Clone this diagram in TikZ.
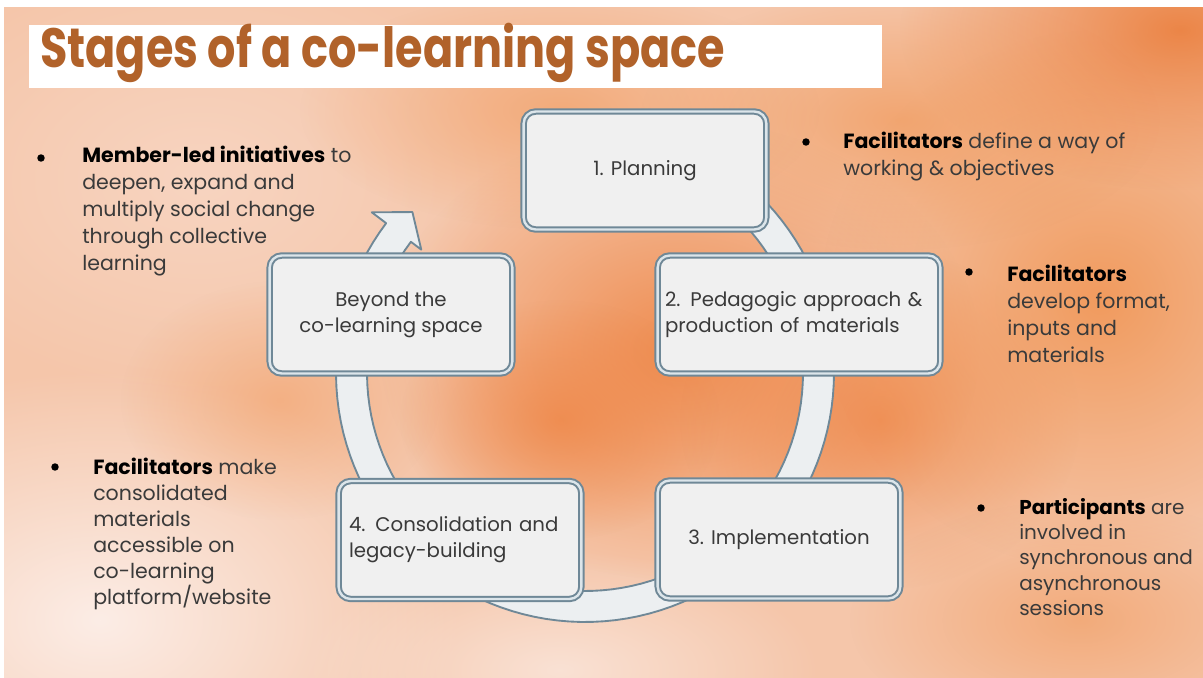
\documentclass[tikz,border=0pt]{standalone}
\usepackage{fontspec}
\usepackage{graphicx}
\setmainfont{Poppins}
\usetikzlibrary{fadings}
\definecolor{bgbase}{HTML}{F5C6AA}
\definecolor{orA}{HTML}{EE8240}
\definecolor{orB}{HTML}{F0904B}
\definecolor{orC}{HTML}{EA7A36}
\definecolor{paleA}{HTML}{FCEDE6}
\definecolor{peach}{HTML}{F8D6C3}
\definecolor{titlecol}{HTML}{B1622A}
\definecolor{slate}{HTML}{6F8897}
\definecolor{ringfill}{HTML}{ECEFF1}
\definecolor{boxfill}{HTML}{F0F0F0}
\definecolor{gapcol}{HTML}{DCE5EA}
\definecolor{bodytext}{HTML}{3A3A3A}
\tikzfading[name=blobfade, inner color=transparent!0, outer color=transparent!100]
\tikzset{
  stagebox/.style={rounded corners=9pt, draw=slate, line width=1.5pt, double=gapcol,
    double distance=1.8pt, fill=boxfill, minimum width=182pt, minimum height=88.5pt,
    inner sep=0pt, text=bodytext, font=\fontsize{14.8}{19.5}\selectfont},
  ringstyle/.style={draw=slate, line width=1.4pt, fill=ringfill, line join=round},
  sidetext/.style={anchor=north west, inner sep=0pt, align=left, text=bodytext,
    font=\fontsize{15.4}{20.2}\selectfont},
  bulletmark/.style={circle, fill=black, inner sep=0pt, minimum size=5.6pt},
  blob/.style={path fading=blobfade}
}
\begin{document}
\begin{tikzpicture}[x=0.75pt,y=-0.75pt]
\useasboundingbox (0,0) rectangle (1203,678);
% background
\fill[white] (0,0) rectangle (1203,678);
\begin{scope}
\clip (4,7) rectangle (1203,678);
\fill[bgbase] (0,0) rectangle (1203,678);
\fill[peach, opacity=0.9, blob] (200,180) ellipse [x radius=320, y radius=220];
\fill[paleA, opacity=1, blob] (100,620) ellipse [x radius=360, y radius=250];
\fill[paleA, opacity=0.7, blob] (560,670) ellipse [x radius=260, y radius=120];
\fill[orA, opacity=0.85, blob] (680,350) ellipse [x radius=300, y radius=230];
\fill[orA, opacity=0.7, blob] (560,420) ellipse [x radius=160, y radius=120];
\fill[orA, opacity=0.7, blob] (880,420) ellipse [x radius=200, y radius=170];
\fill[orB, opacity=0.8, blob] (1100,300) ellipse [x radius=280, y radius=270];
\fill[orC, opacity=0.85, blob] (1180,30) ellipse [x radius=280, y radius=160];
\fill[orB, opacity=0.6, blob] (900,120) ellipse [x radius=260, y radius=130];
\fill[orB, opacity=0.5, blob] (560,110) ellipse [x radius=260, y radius=120];
\fill[orB, opacity=0.5, blob] (1080,620) ellipse [x radius=230, y radius=120];
\fill[orB, opacity=0.4, blob] (280,400) ellipse [x radius=160, y radius=120];
\end{scope}
% title
\node[fill=white, inner sep=0pt, minimum width=639.75pt, minimum height=47.25pt, anchor=north west] (titlebox) at (29,25) {};
\node[anchor=base west, inner sep=0pt, text=titlecol, font=\fontsize{41.5}{45}\selectfont\bfseries] (title) at (40,67) {\scalebox{0.805}[1]{Stages of a co-learning space}};
% ring arrow
\draw[ringstyle]
  plot[domain=258:577, samples=120] ({585+249*cos(\x)},{373+249*sin(\x)})
  -- ({585+267*cos(577)},{373+267*sin(577)})
  -- ({585+236*cos(583)},{373+236*sin(583)})
  -- ({585+205*cos(577)},{373+205*sin(577)})
  -- plot[domain=577:258, samples=120] ({585+218*cos(\x)},{373+218*sin(\x)})
  -- cycle;
% stage boxes
\node[stagebox] (plan) at (645,170.5) {1. Planning};
\node[stagebox, minimum width=212pt, text width=201pt, align=left] (peda) at (799,314.5) {2. Pedagogic approach \&\\production of materials};
\node[stagebox, align=center] (beyond) at (391,314.5) {Beyond the\\co-learning space};
\node[stagebox, text width=166.5pt, align=left] (consol) at (460,540) {4. Consolidation and\\legacy-building};
\node[stagebox] (impl) at (779,539.5) {3. Implementation};
% side notes
\node[bulletmark] (b1) at (41,158) {};
\node[sidetext] (t1) at (82,146) {\textbf{\color{black}Member-led initiatives} to\\deepen, expand and\\multiply social change\\through collective\\learning};
\node[bulletmark] (b2) at (806,142) {};
\node[sidetext] (t2) at (843,132) {\textbf{\color{black}Facilitators} define a way of\\working \& objectives};
\node[bulletmark] (b3) at (969,272) {};
\node[sidetext] (t3) at (1007,265) {\textbf{\color{black}Facilitators}\\develop format,\\inputs and\\materials};
\node[bulletmark] (b4) at (55,467) {};
\node[sidetext, font=\fontsize{15.4}{19.5}\selectfont] (t4) at (93,458) {\textbf{\color{black}Facilitators} make\\consolidated\\materials\\accessible on\\co-learning\\platform/website};
\node[bulletmark] (b5) at (981,508) {};
\node[sidetext, font=\fontsize{15}{19}\selectfont] (t5) at (1019,498) {\textbf{\color{black}Participants} are\\involved in\\synchronous and\\asynchronous\\sessions};
\end{tikzpicture}
\end{document}
